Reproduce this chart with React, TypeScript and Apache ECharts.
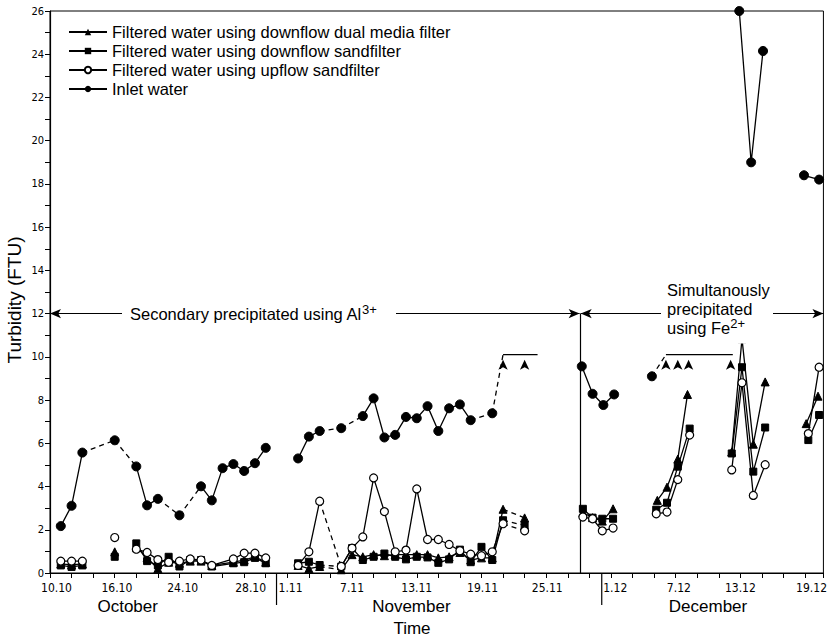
import React, { useEffect, useRef } from 'react';
import * as echarts from 'echarts';

// x = day counted from 1 October (Nov d -> 31 + d, Dec d -> 61 + d)
const labelDays = [10.6, 16.2, 22.3, 28.6, 32.3, 38, 44, 50.1, 56.1, 62.4, 68.3, 74, 80.6];
const labelTexts = ['10.10', '16.10', '24.10', '28.10', '1.11', '7.11', '13.11', '19.11', '25.11', '1.12', '7.12', '13.12', '19.12'];
const months = ['October', 'November', 'December'];
const monthCenterDays = [17.2, 43.5, 71];
const monthBreakDays = [31, 61.15];
const periodBreakDay = 59.15;
const periodLevel = 12;

// links: n = not joined to previous point, s = solid, d = dashed
const inletDays = [11, 12, 13, 16, 18, 19, 20, 22, 24, 25, 26, 27, 28, 29, 30,
  33, 34, 35, 37, 39, 40, 41, 42, 43, 44, 45, 46, 47, 48, 49, 51, 52, 54, 55.2,
  59.3, 60.3, 61.3, 62.3, 65.8, 67.1, 68.2, 69.2, 73.1, 73.3,
  73.9, 75.0, 76.1, 79.9, 81.3];
const inletValues = [2.17, 3.11, 5.57, 6.14, 4.93, 3.13, 3.43, 2.67, 4.01, 3.36, 4.85, 5.04, 4.72, 5.08, 5.79,
  5.3, 6.31, 6.57, 6.7, 7.26, 8.08, 6.27, 6.39, 7.22, 7.16, 7.72, 6.57, 7.62, 7.8, 7.07, 7.39, 10.1, 10.1, 10.1,
  9.56, 8.29, 7.77, 8.26, 9.1, 10.1, 10.1, 10.1, 10.1, 10.1,
  26.0, 19.0, 24.15, 18.4, 18.2];
const inletLinks = ['n', 's', 's', 'd', 'd', 's', 's', 'd', 'd', 's', 's', 's', 's', 's', 's',
  'n', 's', 's', 'd', 'd', 's', 's', 's', 's', 's', 's', 's', 's', 's', 's', 'd', 'd', 's', 's',
  'n', 's', 's', 's', 'n', 'd', 's', 's', 's', 's',
  'n', 's', 's', 'n', 's'];
// o = dot, a = "above 10" arrow, x = no marker
const inletMarks = ['o', 'o', 'o', 'o', 'o', 'o', 'o', 'o', 'o', 'o', 'o', 'o', 'o', 'o', 'o',
  'o', 'o', 'o', 'o', 'o', 'o', 'o', 'o', 'o', 'o', 'o', 'o', 'o', 'o', 'o', 'o', 'a', 'a', 'x',
  'o', 'o', 'o', 'o', 'o', 'a', 'a', 'a', 'a', 'x',
  'o', 'o', 'o', 'o', 'o'];

const filterDays = [11, 12, 13, 16, 18, 19, 20, 21, 22, 23, 24, 25, 27, 28, 29, 30,
  33, 34, 35, 37, 38, 39, 40, 41, 42, 43, 44, 45, 46, 47, 48, 49, 50, 51, 52, 54,
  59.4, 60.3, 61.2, 62.2, 66.2, 67.2, 68.2, 69.3, 73.2, 74.15, 75.2, 76.3, 80.3, 81.3];
const dualDays = [11, 12, 13, 16, 18, 19, 20, 21, 22, 23, 24, 25, 27, 28, 29, 30,
  33, 34, 35, 37, 38, 39, 40, 41, 42, 43, 44, 45, 46, 47, 48, 49, 50, 51, 52, 54,
  59.4, 60.3, 61.2, 62.2, 66.3, 67.2, 68.2, 69.1, 73.2, 74.15, 75.2, 76.3, 80.1, 81.2];
const filterLinks = ['n', 's', 's', 'n', 'n', 's', 's', 's', 's', 's', 's', 's', 's', 's', 's', 's',
  'n', 's', 's', 'd', 's', 's', 's', 's', 's', 's', 's', 's', 's', 's', 's', 's', 's', 's', 's', 'd',
  'n', 's', 's', 's', 'n', 's', 's', 's', 'n', 's', 's', 's', 'n', 's'];

const dualValues = [0.42, 0.38, 0.42, 0.98, 1.2, 0.7, 0.2, 0.5, 0.45, 0.55, 0.55, 0.35, 0.5, 0.6, 0.75, 0.5,
  0.35, 0.2, 0.3, 0.15, 0.85, 0.75, 0.85, 0.8, 0.85, 0.85, 0.85, 0.85, 0.7, 0.75, 0.95, 0.6, 0.7, 0.7, 2.95, 2.55,
  2.8, 2.56, 2.4, 2.97, 3.36, 3.97, 5.27, 8.26, 5.6, 10.84, 5.96, 8.84, 6.91, 8.18];
const sandValues = [0.35, 0.28, 0.35, 0.75, 1.37, 0.55, 0.35, 0.75, 0.3, 0.6, 0.6, 0.3, 0.45, 0.5, 0.7, 0.45,
  0.45, 0.52, 0.37, 0.3, 1.15, 0.6, 0.75, 0.9, 0.75, 0.63, 0.75, 0.72, 0.47, 0.63, 1.08, 0.5, 1.21, 0.6, 2.44, 2.2,
  2.97, 2.56, 2.51, 2.51, 2.93, 3.25, 4.92, 6.68, 5.53, 9.52, 4.69, 6.73, 6.15, 7.31];
const upflowValues = [0.55, 0.55, 0.55, 1.64, 1.1, 0.95, 0.62, 0.5, 0.55, 0.65, 0.6, 0.35, 0.65, 0.92, 0.92, 0.7,
  0.35, 0.98, 3.32, 0.3, 1.15, 1.67, 4.4, 2.84, 0.98, 1.06, 3.89, 1.55, 1.55, 1.32, 1.03, 0.87, 0.8, 0.98, 2.28, 1.95,
  2.59, 2.51, 1.95, 2.08, 2.74, 2.82, 4.32, 6.38, 4.77, 8.8, 3.59, 5.01, 6.45, 9.52];

const names = [
  'Filtered water using downflow dual media filter',
  'Filtered water using downflow sandfilter',
  'Filtered water using upflow sandfilter',
  'Inlet water',
];

const FONT = '"Liberation Sans", Arial, sans-serif';
const NARROW = '"Liberation Sans Narrow", "DejaVu Sans Condensed", "Liberation Sans", sans-serif';

function solidData(days: number[], vals: number[], links: string[], marks?: string[]) {
  const out: any[] = [];
  for (let i = 0; i < days.length; i++) {
    if (i > 0 && links[i] !== 's') out.push(null);
    const m = marks ? marks[i] : 'o';
    if (m === 'a') out.push({ value: [days[i], vals[i]], symbol: 'arrow', symbolSize: [7, 10], symbolOffset: [0, 5], itemStyle: { color: '#000', borderWidth: 0 } });
    else if (m === 'x') out.push({ value: [days[i], vals[i]], symbol: 'none' });
    else out.push([days[i], vals[i]]);
  }
  return out;
}
function dashedData(days: number[], vals: number[], links: string[]) {
  const out: any[] = [];
  for (let i = 1; i < days.length; i++) {
    if (links[i] === 'd') {
      out.push([days[i - 1], vals[i - 1]], [days[i], vals[i]], null);
    }
  }
  return out;
}

function makeSeries(name: string, days: number[], vals: number[], links: string[], sym: any, marks?: string[]) {
  return [
    {
      name, type: 'line', data: solidData(days, vals, links, marks), connectNulls: false,
      symbol: sym.symbol, symbolSize: sym.size, showAllSymbol: true,
      lineStyle: { color: '#000', width: 1.3 },
      itemStyle: sym.itemStyle,
      z: sym.z,
    },
    {
      name, type: 'line', data: dashedData(days, vals, links), connectNulls: false,
      showSymbol: false, symbol: 'none',
      lineStyle: { color: '#000', width: 1.3, type: [5, 4] },
      itemStyle: sym.itemStyle,
      z: sym.z - 1,
    },
  ];
}

export default function App() {
  const ref = useRef<HTMLDivElement>(null);
  useEffect(() => {
    document.body.style.margin = '0';
    const chart = echarts.init(ref.current!, null, { renderer: 'svg' });
    const blackFill = { color: '#000', borderColor: '#000' };
    const series: any[] = [
      ...makeSeries(names[3], inletDays, inletValues, inletLinks, { symbol: 'circle', size: 9, itemStyle: blackFill, z: 5 }, inletMarks),
      ...makeSeries(names[1], filterDays, sandValues, filterLinks, { symbol: 'rect', size: 7, itemStyle: blackFill, z: 6 }),
      ...makeSeries(names[0], dualDays, dualValues, filterLinks, { symbol: 'triangle', size: 8, itemStyle: blackFill, z: 7 }),
      ...makeSeries(names[2], filterDays, upflowValues, filterLinks, { symbol: 'circle', size: 8, itemStyle: { color: '#fff', borderColor: '#000', borderWidth: 1.2 }, z: 8 }),
    ];
    // period arrows
    series[0].markLine = {
      silent: true, animation: false,
      symbol: ['arrow', 'arrow'], symbolSize: [7, 11],
      label: { show: false },
      lineStyle: { color: '#000', width: 1.2, type: 'solid' },
      data: [
        [{ coord: [10, periodLevel] }, { coord: [periodBreakDay - 0.05, periodLevel] }],
        [{ coord: [periodBreakDay + 0.05, periodLevel] }, { coord: [81.7, periodLevel] }],
        [{ coord: [periodBreakDay, 0], symbol: 'none' }, { coord: [periodBreakDay, periodLevel], symbol: 'none' }],
      ],
    };
    const option: any = {
      animation: false,
      backgroundColor: '#fff',
      grid: { left: 50, right: 2, top: 11, bottom: 65, show: true, borderColor: '#000', borderWidth: 1 },
      legend: {
        orient: 'vertical', left: 63, top: 18, itemWidth: 38, itemHeight: 8, itemGap: 1,
        data: [names[0], names[1], names[2], names[3]],
        textStyle: { fontFamily: FONT, fontSize: 16.5, lineHeight: 18, color: '#000' },
        selectedMode: false,
      },
      xAxis: {
        type: 'value', min: 10, max: 81.7, interval: 2,
        axisLine: { lineStyle: { color: '#000', width: 1.2 } },
        axisTick: { show: true, length: 5, lineStyle: { color: '#000' } },
        splitLine: { show: false },
        axisLabel: {
          customValues: labelDays,
          formatter: (v: number) => {
            const i = labelDays.findIndex((d) => Math.abs(d - v) < 1e-6);
            return i >= 0 ? labelTexts[i] : '';
          },
          color: '#000', fontFamily: NARROW, fontSize: 12, margin: 9,
        },
      },
      yAxis: {
        type: 'value', min: 0, max: 26, interval: 1,
        axisLine: { show: true, lineStyle: { color: '#000', width: 1.2 } },
        axisTick: { show: true, length: 5, lineStyle: { color: '#000' } },
        splitLine: { show: false },
        axisLabel: {
          formatter: (v: number) => (v % 2 === 0 ? String(v) : ''),
          color: '#000', fontFamily: NARROW, fontSize: 11, margin: 6,
        },
      },
      series,
    };
    chart.setOption(option);

    const px = (d: number, v: number) => chart.convertToPixel({ gridIndex: 0 }, [d, v]) as number[];
    const y0 = px(10, 0)[1];
    const yP = px(10, periodLevel)[1];
    const graphic: any[] = [];
    monthBreakDays.forEach((d) => {
      const x = px(d, 0)[0];
      graphic.push({ type: 'line', shape: { x1: x, y1: y0, x2: x, y2: y0 + 32 }, style: { stroke: '#000', lineWidth: 1.2 } });
    });
    months.forEach((m, i) => {
      graphic.push({ type: 'text', x: px(monthCenterDays[i], 0)[0], y: y0 + 33, style: { text: m, fontFamily: FONT, fontSize: 17, fill: '#000', align: 'center', verticalAlign: 'middle' } });
    });
    graphic.push({ type: 'text', x: 412, y: 628, style: { text: 'Time', fontFamily: FONT, fontSize: 17, fill: '#000', align: 'center', verticalAlign: 'middle' } });
    graphic.push({ type: 'text', x: 14, y: 300, rotation: Math.PI / 2, style: { text: 'Turbidity (FTU)', fontFamily: FONT, fontSize: 19, fill: '#000', align: 'center', verticalAlign: 'middle' } });
    // Al text
    graphic.push({ type: 'rect', shape: { x: 122, y: yP - 10, width: 274, height: 20 }, style: { fill: '#fff' }, z: 100 });
    graphic.push({
      type: 'text', x: 130, y: yP, z: 101,
      style: {
        text: '{a|Secondary precipitated using Al}{s|3+}', verticalAlign: 'middle',
        rich: { a: { fontFamily: FONT, fontSize: 16.5, fill: '#000' }, s: { fontFamily: FONT, fontSize: 13, fill: '#000', verticalAlign: 'bottom', padding: [0, 0, 8, 0] } },
      },
    });
    // Fe text
    graphic.push({ type: 'rect', shape: { x: 661, y: yP - 34, width: 112, height: 64 }, style: { fill: '#fff' }, z: 100 });
    graphic.push({ type: 'text', x: 667, y: yP - 24, z: 101, style: { text: 'Simultanously', fontFamily: FONT, fontSize: 16.5, fill: '#000', verticalAlign: 'middle' } });
    graphic.push({ type: 'text', x: 667, y: yP - 5, z: 101, style: { text: 'precipitated', fontFamily: FONT, fontSize: 16.5, fill: '#000', verticalAlign: 'middle' } });
    graphic.push({
      type: 'text', x: 667, y: yP + 14, z: 101,
      style: {
        text: '{a|using Fe}{s|2+}', verticalAlign: 'middle',
        rich: { a: { fontFamily: FONT, fontSize: 16.5, fill: '#000' }, s: { fontFamily: FONT, fontSize: 13, fill: '#000', verticalAlign: 'bottom', padding: [0, 0, 8, 0] } },
      },
    });
    chart.setOption({ graphic });
    return () => chart.dispose();
  }, []);
  return <div ref={ref} style={{ position: 'absolute', left: 0, top: 0, width: 830, height: 638 }} />;
}
